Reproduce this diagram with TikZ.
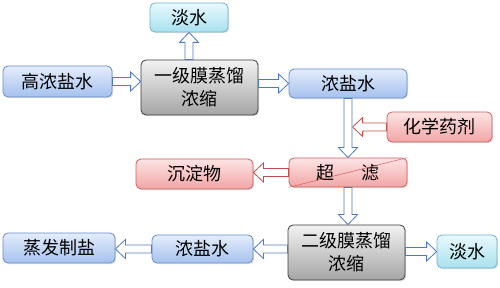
\documentclass[tikz,border=0pt]{standalone}
\usepackage{fontspec}
\newfontfamily\cjk{Noto Sans CJK SC}
\usetikzlibrary{calc, shadows}

\definecolor{blueedge}{RGB}{105,140,200}
\definecolor{bluetop}{RGB}{228,237,252}
\definecolor{bluebot}{RGB}{165,193,238}
\definecolor{grayedge}{RGB}{60,60,60}
\definecolor{graytop}{RGB}{242,242,242}
\definecolor{graybot}{RGB}{165,165,165}
\definecolor{rededge}{RGB}{205,95,95}
\definecolor{redtop}{RGB}{253,228,228}
\definecolor{redbot}{RGB}{242,165,165}
\definecolor{cyanedge}{RGB}{110,180,205}
\definecolor{cyantop}{RGB}{232,249,252}
\definecolor{cyanbot}{RGB}{168,225,238}
\definecolor{arrowblue}{RGB}{80,122,192}
\definecolor{arrowred}{RGB}{192,80,77}

\tikzset{
  box/.style={rounded corners=5pt, line width=0.8pt, inner sep=0pt, align=center,
    drop shadow={opacity=0.25, shadow xshift=1.2pt, shadow yshift=-1.2pt}},
  bluebox/.style={box, draw=blueedge, top color=bluetop, bottom color=bluebot},
  graybox/.style={box, draw=grayedge, top color=graytop, bottom color=graybot},
  redbox/.style={box, draw=rededge, top color=redtop, bottom color=redbot},
  cyanbox/.style={box, draw=cyanedge, top color=cyantop, bottom color=cyanbot},
  flowblue/.style={draw=arrowblue, fill=white, line width=0.8pt},
  flowred/.style={draw=arrowred, fill=white, line width=0.8pt},
  % hohler Blockpfeil von Start zu Ziel
  hollow/.style={to path={let \p1=(\tikztostart), \p2=(\tikztotarget),
      \n1={veclen(\x2-\x1,\y2-\y1)}, \n2={(\x2-\x1)/\n1}, \n3={(\y2-\y1)/\n1} in
      ({\x1-4*(\n3)},{\y1+4*(\n2)})
      -- ({\x2-10*(\n2)-4*(\n3)},{\y2-10*(\n3)+4*(\n2)})
      -- ({\x2-10*(\n2)-9.5*(\n3)},{\y2-10*(\n3)+9.5*(\n2)})
      -- (\p2)
      -- ({\x2-10*(\n2)+9.5*(\n3)},{\y2-10*(\n3)-9.5*(\n2)})
      -- ({\x2-10*(\n2)+4*(\n3)},{\y2-10*(\n3)-4*(\n2)})
      -- ({\x1+4*(\n3)},{\y1-4*(\n2)}) -- cycle}}
}

\begin{document}
\begin{tikzpicture}[x=1pt, y=1pt, font=\cjk\fontsize{18}{23}\selectfont]
  \useasboundingbox (0,0) rectangle (500,288);

  % --- erste Stufe ---
  \node[cyanbox, minimum width=78, minimum height=29] (fw1) at (189,270.5) {淡水};
  \node[bluebox, minimum width=109, minimum height=31] (gao) at (57.5,206.5) {高浓盐水};
  \node[graybox, minimum width=117, minimum height=55] (md1) at (199.5,200.5) {一级膜蒸馏\\浓缩};
  \node[bluebox, minimum width=118, minimum height=29] (brine1) at (348,204.5) {浓盐水};

  % --- Fällung und Filtration ---
  \node[redbox, minimum width=105, minimum height=30] (chem) at (439.5,161) {化学药剂};
  \node[redbox, minimum width=118, minimum height=29] (uf) at (348,115.5) {超\hspace{1.5em}滤};
  \node[redbox, minimum width=117, minimum height=30] (sed) at (194.5,114) {沉淀物};
  \draw[rededge, line width=0.5pt] (uf.south west) -- (uf.north east);

  % --- zweite Stufe ---
  \node[graybox, minimum width=117, minimum height=55] (md2) at (346.5,35.5) {二级膜蒸馏\\浓缩};
  \node[cyanbox, minimum width=60, minimum height=33] (fw2) at (467,36.5) {淡水};
  \node[bluebox, minimum width=101, minimum height=28] (brine2) at (202.5,39) {浓盐水};
  \node[bluebox, minimum width=112, minimum height=30] (salt) at (59,40) {蒸发制盐};

  % --- Pfeile ---
  \draw[flowblue] (gao.east) to[hollow] (md1.west |- gao.east);
  \draw[flowblue] (fw1.south |- md1.north) to[hollow] (fw1.south);
  \draw[flowblue] (md1.east |- brine1.west) to[hollow] (brine1.west);
  \draw[flowblue] (brine1.south) to[hollow] (uf.north);
  \coordinate (mix) at ($(brine1.south |- chem.west)+(4.6,0)$);
  \draw[flowred] (chem.west) to[hollow] (mix);
  \draw[flowred] (uf.west) to[hollow] (sed.east |- uf.west);
  \draw[flowblue] (uf.south) to[hollow] (md2.north -| uf.south);
  \draw[flowblue] (md2.west |- brine2.east) to[hollow] (brine2.east);
  \draw[flowblue] (md2.east |- fw2.west) to[hollow] (fw2.west);
  \draw[flowblue] (brine2.west) to[hollow] (salt.east |- brine2.west);

\end{tikzpicture}
\end{document}
